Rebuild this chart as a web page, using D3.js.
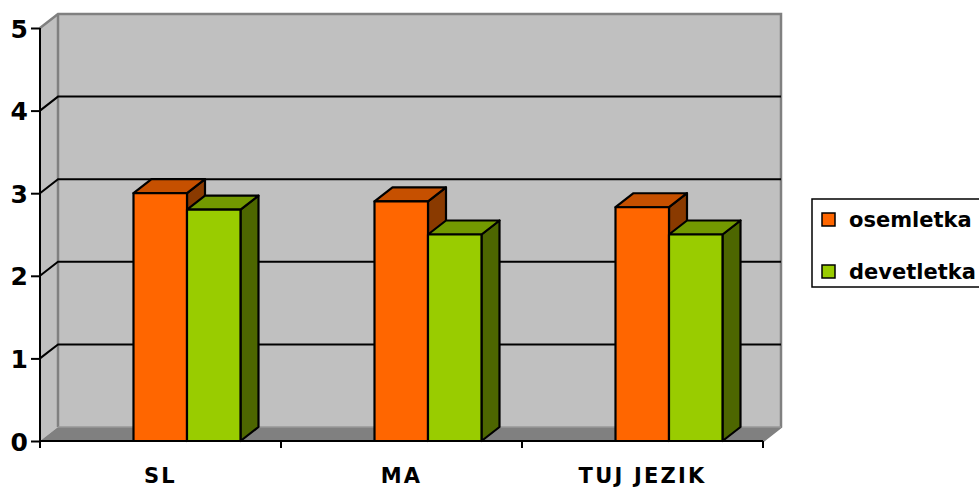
<!DOCTYPE html>
<html>
<head>
<meta charset="utf-8">
<script src="https://cdn.jsdelivr.net/npm/d3@7"></script>
<style>
  html, body { margin: 0; padding: 0; background: #ffffff; }
  svg { display: block; }
  text { font-family: "Comic Sans MS", "DejaVu Sans", sans-serif; font-weight: bold; fill: #000; }
</style>
</head>
<body>
<svg id="chart" width="979" height="489"></svg>
<script>
// Data
const categories = ["SL", "MA", "TUJ JEZIK"];
const seriesNames = ["osemletka", "devetletka"];
const osemletka = [3.0, 2.9, 2.83];
const devetletka = [2.8, 2.5, 2.5];
const yTicks = [0, 1, 2, 3, 4, 5];

// Colours per series: front, top, side
const palette = [
  { front: "#FF6600", top: "#C65000", side: "#8A3A00" },
  { front: "#99CC00", top: "#739900", side: "#4D6600" }
];

const svg = d3.select("#chart");

// 3D depth offset
const DX = 18, DY = -14;
const left = 40, right = 763;

const y = d3.scaleLinear().domain([0, 5]).range([441, 28]);
const xCat = d3.scaleBand().domain(categories).range([left, right]).padding(0);
const xSer = d3.scaleBand().domain(seriesNames).range([93.5, 200.5]).padding(0);

const y0 = y(0), y5 = y(5);
const poly = pts => pts.map(p => p.join(",")).join(" ");

// Back wall
svg.append("polygon")
  .attr("points", poly([[left + DX, y5 + DY], [right + DX, y5 + DY], [right + DX, y0 + DY], [left + DX, y0 + DY]]))
  .attr("fill", "#C0C0C0");
// Left side wall
svg.append("polygon")
  .attr("points", poly([[left, y0], [left, y5], [left + DX, y5 + DY], [left + DX, y0 + DY]]))
  .attr("fill", "#C0C0C0");
// Floor
svg.append("polygon")
  .attr("points", poly([[left, y0], [left + DX, y0 + DY], [right + DX, y0 + DY], [right, y0]]))
  .attr("fill", "#808080");

// Wall borders
const border = "#808080";
svg.append("polyline")
  .attr("points", poly([[left, y5], [left + DX, y5 + DY], [right + DX, y5 + DY], [right + DX, y0 + DY], [right, y0]]))
  .attr("fill", "none").attr("stroke", border).attr("stroke-width", 2.5);
svg.append("line")
  .attr("x1", left + DX).attr("x2", left + DX).attr("y1", y5 + DY).attr("y2", y0 + DY)
  .attr("stroke", border).attr("stroke-width", 2.5);
svg.append("line")
  .attr("x1", left + DX).attr("x2", right + DX).attr("y1", y0 + DY).attr("y2", y0 + DY)
  .attr("stroke", "#999999").attr("stroke-width", 1.5);

// Gridlines on back wall and side wall
const grid = svg.append("g");
yTicks.filter(t => t > 0 && t < 5).forEach(t => {
  grid.append("polyline")
    .attr("points", poly([[left, y(t)], [left + DX, y(t) + DY], [right + DX, y(t) + DY]]))
    .attr("fill", "none").attr("stroke", "#000").attr("stroke-width", 2);
});

// Bars
const valuesBySeries = [osemletka, devetletka];
const bars = svg.append("g").attr("stroke", "#000").attr("stroke-width", 2.2).attr("stroke-linejoin", "round");
categories.forEach((cat, ci) => {
  seriesNames.forEach((s, si) => {
    const v = valuesBySeries[si][ci];
    const x0 = xCat(cat) + xSer(s);
    const x1 = x0 + xSer.bandwidth();
    const yt = y(v), yb = y(0);
    const c = palette[si];
    const g = bars.append("g");
    g.append("polygon")
      .attr("points", poly([[x1, yb], [x1, yt], [x1 + DX, yt + DY], [x1 + DX, yb + DY]]))
      .attr("fill", c.side);
    g.append("polygon")
      .attr("points", poly([[x0, yt], [x0 + DX, yt + DY], [x1 + DX, yt + DY], [x1, yt]]))
      .attr("fill", c.top);
    g.append("rect")
      .attr("x", x0).attr("y", yt).attr("width", x1 - x0).attr("height", yb - yt)
      .attr("fill", c.front);
  });
});

// Y axis
const yAxisG = svg.append("g").attr("transform", `translate(${left},0)`)
  .call(d3.axisLeft(y).tickValues(yTicks).tickSize(9).tickPadding(3).tickFormat(d3.format("d")));
yAxisG.select(".domain").attr("stroke", "#000").attr("stroke-width", 2).attr("d", `M0,${y5}V${y0 + 7}`);
yAxisG.selectAll(".tick line").attr("stroke", "#000").attr("stroke-width", 2);
yAxisG.selectAll(".tick text")
  .style("font-family", "'Comic Sans MS', 'DejaVu Sans', sans-serif")
  .style("font-weight", "bold").attr("font-size", 25).attr("dy", "0.36em");

// X axis
const xAxisG = svg.append("g").attr("transform", `translate(0,${y0})`);
xAxisG.append("line").attr("x1", left).attr("x2", right).attr("y1", 0).attr("y2", 0)
  .attr("stroke", "#000").attr("stroke-width", 2);
const boundaries = categories.map(c => xCat(c)).concat([xCat.range()[1]]);
xAxisG.selectAll("line.tk").data(boundaries).join("line").attr("class", "tk")
  .attr("x1", d => d).attr("x2", d => d).attr("y1", 0).attr("y2", 7)
  .attr("stroke", "#000").attr("stroke-width", 2);
xAxisG.selectAll("text").data(categories).join("text")
  .attr("x", d => xCat(d) + xCat.bandwidth() / 2)
  .attr("y", 42)
  .attr("text-anchor", "middle")
  .attr("font-size", 21)
  .attr("letter-spacing", 2.2)
  .text(d => d);

// Legend
const legend = svg.append("g");
legend.append("rect").attr("x", 812).attr("y", 199).attr("width", 180).attr("height", 88)
  .attr("fill", "#fff").attr("stroke", "#000").attr("stroke-width", 1.5);
seriesNames.forEach((s, i) => {
  const ly = 219.5 + i * 52;
  legend.append("rect").attr("x", 822).attr("y", ly - 6.5).attr("width", 13).attr("height", 13)
    .attr("fill", palette[i].front).attr("stroke", "#000").attr("stroke-width", 1.5);
  legend.append("text").attr("x", 849).attr("y", ly).attr("dy", "0.35em")
    .attr("font-size", 21).text(s);
});
</script>
</body>
</html>
